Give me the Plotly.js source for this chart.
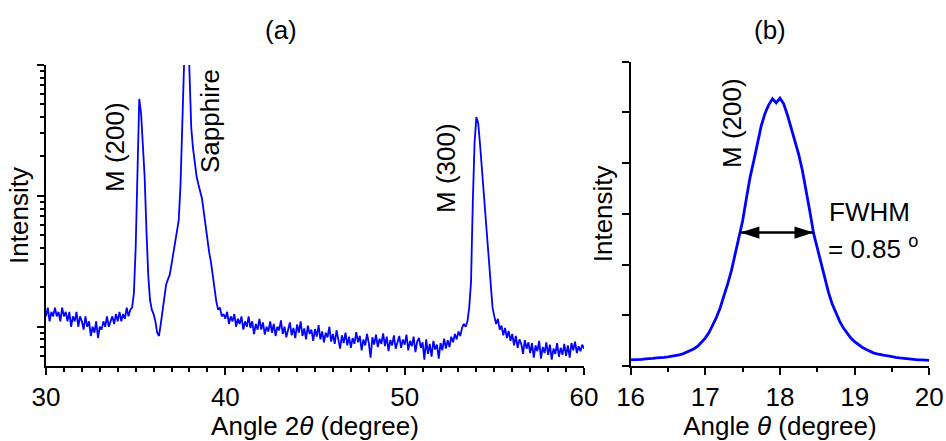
<!DOCTYPE html>
<html>
<head>
<meta charset="utf-8">
<script src="https://cdn.plot.ly/plotly-3.0.1.min.js"></script>
<style>html,body{margin:0;padding:0;background:#fff;}#chart{width:946px;height:441px;}</style>
</head>
<body>
<div id="chart"></div>
<script>
// ---- Panel (a): XRD 2theta scan, 30..60 deg, step 0.1 deg (log intensity, a.u.)
const scanA_start = 30;
const scanA_step = 0.1;
const intensityA = [
  12,14,11,13,12,14,12,13,11,14,            // 30
  12,13,11,13,10,12,11,13,10,12,            // 31
  11,9.5,12,10,11,8.5,10,9,11,8.2,          // 32
  10,9.5,11,10,12,10,11,12,10.5,12.5,       // 33
  11,13,11,12.5,11.5,14,12,13.5,14,18,      // 34
  40,200,550,430,250,140,55,25,16,13.5,     // 35  M(200)
  12.5,11,9,8.5,10.5,13,17,21,23,25,        // 36
  30,37,45,54,65,120,330,1100,3000,2400,    // 37  sapphire
  800,330,230,170,140,122,108,95,75,58,     // 38
  46,37,31,24,18,15.5,13.5,14,12,12.5,      // 39
  11.5,13,10.5,12,11,12.5,10,11.5,10.5,12,  // 40
  9.5,11,10,12,9.8,11,8.8,10.5,9.5,11.5,    // 41
  9.5,10.8,8.7,10,9.2,11,9,10.5,8.5,10,     // 42
  9.4,11.2,8.8,10,8.3,9.6,10.8,8.6,9.8,8.2, // 43
  10.4,9,11,8.5,9.7,8,10.2,8.8,9.5,7.8,     // 44
  9.6,8.4,10.3,8,9.2,7.6,9,8.3,10,7.7,      // 45
  8.8,7.4,9.4,8,6.8,8.6,7.5,9,7.2,8.4,      // 46
  6.9,8.2,7.4,9.1,7.6,8.5,6.6,8,7.2,8.8,    // 47
  7.5,5.8,8.3,7.3,8.7,7,8.1,7.4,8.9,7.1,    // 48
  8.4,6.5,7.9,7.2,8.6,6.8,7.7,8.5,6.9,8,    // 49
  7.3,8.7,6.6,7.8,7.1,8.4,6.4,7.7,8.2,6.9,  // 50
  7.6,5.6,8,6.2,7.4,5.9,7.8,6.7,7.3,5.7,    // 51
  7.5,6.6,8.1,6.8,7.9,7,8.4,7.6,8.8,8,      // 52
  9.2,8.5,9.8,10.5,10,11,14,22,90,260,      // 53
  400,360,250,165,110,75,45,28,19,14,       // 54  M(300)
  12,10.5,11.5,9.5,10.2,8.6,9.8,8.2,9.3,7.8,// 55
  8.8,7.2,8.5,6.9,8,7.4,6.2,7.9,6.8,7.6,    // 56
  6.3,7.5,5.8,7.2,6.5,7.8,5.7,7,6.3,7.6,    // 57
  6.1,7.3,5.6,6.8,6.2,7.5,5.9,6.9,6.1,7.4,  // 58
  6,7.2,5.8,7.5,6.6,7.7,6.3,7.1,6.5,7.3,    // 59
  6.8                                       // 60
];

// ---- Panel (b): rocking curve of M(200), 16..20 deg, step 0.05 deg (linear, a.u.)
const scanB_start = 16;
const scanB_step = 0.05;
const intensityB = [
  0.12,0.12,0.13,0.13,0.14,0.14,0.15,0.16,0.16,0.17,   // 16.00-16.45
  0.18,0.19,0.21,0.22,0.24,0.27,0.30,0.34,0.39,0.47,   // 16.50-16.95
  0.55,0.66,0.80,0.96,1.15,1.37,1.62,1.88,2.20,2.52,   // 17.00-17.45
  2.86,3.30,3.72,4.05,4.42,4.74,4.98,5.15,5.27,5.19,   // 17.50-17.95
  5.28,5.17,4.95,4.70,4.46,4.18,3.86,3.48,3.05,2.62,   // 18.00-18.45
  2.32,2.08,1.75,1.45,1.22,1.04,0.88,0.75,0.64,0.55,   // 18.50-18.95
  0.48,0.42,0.37,0.33,0.29,0.26,0.24,0.22,0.21,0.20,   // 19.00-19.45
  0.18,0.17,0.16,0.15,0.14,0.13,0.13,0.12,0.12,0.11,   // 19.50-19.95
  0.11                                                 // 20.00
];

// FWHM marker: left end, right end, level
const fwhmX = [17.47, 18.45];
const fwhmY = [2.63, 2.63];

// Labels
const xTitleA = 'Angle 2<i>θ</i> (degree)';
const xTitleB = 'Angle <i>θ</i> (degree)';
const yTitle = 'Intensity';
const peakLabelsA = ['M (200)', 'Sapphire', 'M (300)'];
const peakLabelB = 'M (200)';
const fwhmText1 = 'FWHM';
const fwhmText2 = '= 0.85 <sup>o</sup>';

const W = 946, H = 441;
const px = x => x / W;
const py = y => (H - y) / H;
const FONT = 'Liberation Sans, Arial, Helvetica, sans-serif';
const fs = 26;

const traces = [
  {type:'scatter', mode:'lines', x0:scanA_start, dx:scanA_step, y:intensityA,
   xaxis:'x', yaxis:'y', line:{color:'#0000ff', width:1.8}, hoverinfo:'skip'},
  {type:'scatter', mode:'lines', x0:scanB_start, dx:scanB_step, y:intensityB,
   xaxis:'x2', yaxis:'y2', line:{color:'#0000ff', width:2.8}, hoverinfo:'skip'},
  {type:'scatter', mode:'lines+markers', x:fwhmX, y:fwhmY, xaxis:'x2', yaxis:'y2',
   line:{color:'#000', width:2.5},
   marker:{symbol:'arrow', angle:[-90, 90], size:20, color:'#000', line:{width:0}},
   hoverinfo:'skip', cliponaxis:false}
];

const axCommon = {
  showline:true, linecolor:'#000', linewidth:2, mirror:false,
  showgrid:false, zeroline:false, ticks:'outside', ticklen:7, tickwidth:2, tickcolor:'#000',
  tickfont:{family:FONT, size:fs, color:'#000'}
};

function rotLabel(text, x, y){
  return {text:text, xref:'paper', yref:'paper', x:px(x), y:py(y), xanchor:'center', yanchor:'middle',
          textangle:-90, showarrow:false, font:{family:FONT, size:fs, color:'#000'}};
}

const layout = {
  width:W, height:H, margin:{l:0,r:0,t:0,b:0},
  paper_bgcolor:'#fff', plot_bgcolor:'rgba(0,0,0,0)', showlegend:false,
  xaxis:Object.assign({}, axCommon, {
    domain:[px(46), px(584)], range:[30,60], tick0:30, dtick:10, anchor:'y',
    minor:{ticks:'outside', ticklen:4, tickwidth:2, tickcolor:'#000', dtick:1, tick0:30, showgrid:false},
    title:{text:xTitleA, font:{family:FONT, size:fs, color:'#000'}, standoff:4}
  }),
  yaxis:Object.assign({}, axCommon, {
    type:'log', domain:[py(366), py(65)], range:[0.70, 3.0], dtick:1, anchor:'x',
    showticklabels:false,
    minor:{ticks:'outside', ticklen:4, tickwidth:2, tickcolor:'#000', dtick:'D1', showgrid:false},
    title:{text:yTitle, font:{family:FONT, size:fs, color:'#000'}, standoff:1}
  }),
  xaxis2:Object.assign({}, axCommon, {
    domain:[px(630.6), px(929.3)], range:[16,20], tick0:16, dtick:1, anchor:'y2',
    minor:{ticks:'outside', ticklen:4, tickwidth:2, tickcolor:'#000', dtick:0.5, tick0:16, showgrid:false},
    title:{text:xTitleB, font:{family:FONT, size:fs, color:'#000'}, standoff:4}
  }),
  yaxis2:Object.assign({}, axCommon, {
    domain:[py(366), py(61.7)], range:[0,6], dtick:1, anchor:'x2',
    showticklabels:false,
    title:{text:yTitle, font:{family:FONT, size:fs, color:'#000'}, standoff:1}
  }),
  annotations:[
    {text:'(a)', xref:'paper', yref:'paper', x:px(281), y:py(30), xanchor:'center', yanchor:'middle',
     showarrow:false, font:{family:FONT, size:fs, color:'#000'}},
    {text:'(b)', xref:'paper', yref:'paper', x:px(770), y:py(30), xanchor:'center', yanchor:'middle',
     showarrow:false, font:{family:FONT, size:fs, color:'#000'}},
    rotLabel(peakLabelsA[0], 115, 147),
    rotLabel(peakLabelsA[1], 210, 121),
    rotLabel(peakLabelsA[2], 446, 168),
    rotLabel(peakLabelB, 732, 123),
    {text:fwhmText1, xref:'paper', yref:'paper', x:px(827), y:py(212), xanchor:'left', yanchor:'middle',
     showarrow:false, font:{family:FONT, size:fs, color:'#000'}},
    {text:fwhmText2, xref:'paper', yref:'paper', x:px(826), y:py(247), xanchor:'left', yanchor:'middle',
     showarrow:false, font:{family:FONT, size:fs, color:'#000'}}
  ]
};

Plotly.newPlot('chart', traces, layout, {staticPlot:true, displayModeBar:false});
</script>
</body>
</html>
